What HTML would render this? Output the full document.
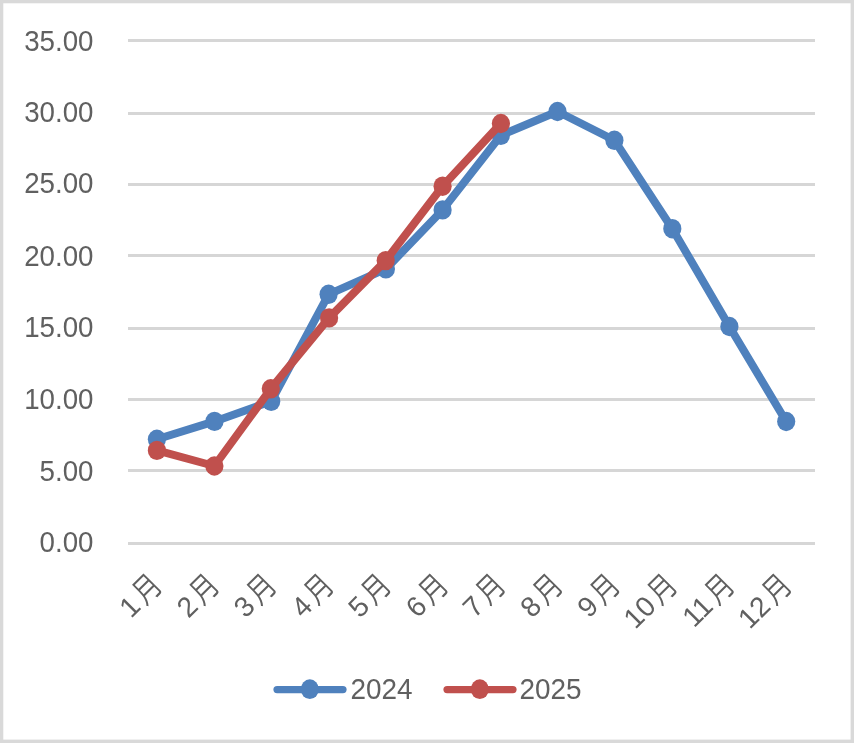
<!DOCTYPE html>
<html lang="zh">
<head>
<meta charset="utf-8">
<title>chart</title>
<style>
html,body{margin:0;padding:0;background:#d9d9d9;}
body{width:854px;height:743px;overflow:hidden;}
svg{display:block;filter:blur(0.4px);}
text{font-family:"Liberation Sans","Noto Sans CJK SC",sans-serif;fill:#606060;}
.yl{font-size:27.7px;text-anchor:end;}
.mo{font-size:31px;text-anchor:end;font-weight:350;}
.dg{font-size:28.2px;text-anchor:end;}
.lg{font-size:27.9px;}
</style>
</head>
<body>
<svg width="854" height="743" viewBox="0 0 854 743">
<rect x="0" y="0" width="854" height="743" fill="#d9d9d9"/>
<rect x="3.3" y="3.3" width="847.3" height="736.3" fill="#ffffff"/>

<rect x="128" y="39" width="687" height="3" fill="#d6d6d6"/>
<rect x="128" y="112" width="687" height="3" fill="#d6d6d6"/>
<rect x="128" y="183" width="687" height="3" fill="#d6d6d6"/>
<rect x="128" y="254" width="687" height="3" fill="#d6d6d6"/>
<rect x="128" y="327" width="687" height="3" fill="#d6d6d6"/>
<rect x="128" y="398" width="687" height="3" fill="#d6d6d6"/>
<rect x="128" y="469" width="687" height="3" fill="#d6d6d6"/>
<rect x="128" y="542" width="687" height="3" fill="#d6d6d6"/>
<text class="yl" transform="translate(93.5,50.8) scale(1,1.06)">35.00</text>
<text class="yl" transform="translate(93.5,122.4) scale(1,1.06)">30.00</text>
<text class="yl" transform="translate(93.5,192.9) scale(1,1.06)">25.00</text>
<text class="yl" transform="translate(93.5,265.7) scale(1,1.06)">20.00</text>
<text class="yl" transform="translate(93.5,336.8) scale(1,1.06)">15.00</text>
<text class="yl" transform="translate(93.5,408.5) scale(1,1.06)">10.00</text>
<text class="yl" transform="translate(93.5,480.8) scale(1,1.06)">5.00</text>
<text class="yl" transform="translate(93.5,551.5) scale(1,1.06)">0.00</text>
<polyline points="156.9,439.3 214.5,421.4 271.2,401.3 328.6,294.3 385.9,268.9 442.6,209.9 500.9,135.3 557.5,111.5 614.4,140.3 672.3,228.7 729.4,326.5 786.2,421.5" fill="none" stroke="#4f81bd" stroke-width="8" stroke-linejoin="round" stroke-linecap="round"/>
<ellipse cx="156.9" cy="439.3" rx="9.1" ry="9.7" fill="#4f81bd"/>
<ellipse cx="214.5" cy="421.4" rx="9.1" ry="9.7" fill="#4f81bd"/>
<ellipse cx="271.2" cy="401.3" rx="9.1" ry="9.7" fill="#4f81bd"/>
<ellipse cx="328.6" cy="294.3" rx="9.1" ry="9.7" fill="#4f81bd"/>
<ellipse cx="385.9" cy="268.9" rx="9.1" ry="9.7" fill="#4f81bd"/>
<ellipse cx="442.6" cy="209.9" rx="9.1" ry="9.7" fill="#4f81bd"/>
<ellipse cx="500.9" cy="135.3" rx="9.1" ry="9.7" fill="#4f81bd"/>
<ellipse cx="557.5" cy="111.5" rx="9.1" ry="9.7" fill="#4f81bd"/>
<ellipse cx="614.4" cy="140.3" rx="9.1" ry="9.7" fill="#4f81bd"/>
<ellipse cx="672.3" cy="228.7" rx="9.1" ry="9.7" fill="#4f81bd"/>
<ellipse cx="729.4" cy="326.5" rx="9.1" ry="9.7" fill="#4f81bd"/>
<ellipse cx="786.2" cy="421.5" rx="9.1" ry="9.7" fill="#4f81bd"/>
<polyline points="156.9,450.4 214.4,466.0 270.8,388.8 329.1,317.9 385.7,260.6 442.6,186.2 500.9,123.5" fill="none" stroke="#c0504d" stroke-width="8" stroke-linejoin="round" stroke-linecap="round"/>
<ellipse cx="156.9" cy="450.4" rx="9.1" ry="9.7" fill="#c0504d"/>
<ellipse cx="214.4" cy="466.0" rx="9.1" ry="9.7" fill="#c0504d"/>
<ellipse cx="270.8" cy="388.8" rx="9.1" ry="9.7" fill="#c0504d"/>
<ellipse cx="329.1" cy="317.9" rx="9.1" ry="9.7" fill="#c0504d"/>
<ellipse cx="385.7" cy="260.6" rx="9.1" ry="9.7" fill="#c0504d"/>
<ellipse cx="442.6" cy="186.2" rx="9.1" ry="9.7" fill="#c0504d"/>
<ellipse cx="500.9" cy="123.5" rx="9.1" ry="9.7" fill="#c0504d"/>
<g class="xl" transform="translate(164.1,586.0) rotate(-45)"><text class="dg" x="-31" y="0">1</text><text class="mo" transform="translate(-0.8,0.9) scale(0.86,1)" x="0" y="0">月</text></g>
<g class="xl" transform="translate(221.4,586.0) rotate(-45)"><text class="dg" x="-31" y="0">2</text><text class="mo" transform="translate(-0.8,0.9) scale(0.86,1)" x="0" y="0">月</text></g>
<g class="xl" transform="translate(278.6,586.0) rotate(-45)"><text class="dg" x="-31" y="0">3</text><text class="mo" transform="translate(-0.8,0.9) scale(0.86,1)" x="0" y="0">月</text></g>
<g class="xl" transform="translate(335.9,586.0) rotate(-45)"><text class="dg" x="-31" y="0">4</text><text class="mo" transform="translate(-0.8,0.9) scale(0.86,1)" x="0" y="0">月</text></g>
<g class="xl" transform="translate(393.1,586.0) rotate(-45)"><text class="dg" x="-31" y="0">5</text><text class="mo" transform="translate(-0.8,0.9) scale(0.86,1)" x="0" y="0">月</text></g>
<g class="xl" transform="translate(450.4,586.0) rotate(-45)"><text class="dg" x="-31" y="0">6</text><text class="mo" transform="translate(-0.8,0.9) scale(0.86,1)" x="0" y="0">月</text></g>
<g class="xl" transform="translate(507.6,586.0) rotate(-45)"><text class="dg" x="-31" y="0">7</text><text class="mo" transform="translate(-0.8,0.9) scale(0.86,1)" x="0" y="0">月</text></g>
<g class="xl" transform="translate(564.9,586.0) rotate(-45)"><text class="dg" x="-31" y="0">8</text><text class="mo" transform="translate(-0.8,0.9) scale(0.86,1)" x="0" y="0">月</text></g>
<g class="xl" transform="translate(622.1,586.0) rotate(-45)"><text class="dg" x="-31" y="0">9</text><text class="mo" transform="translate(-0.8,0.9) scale(0.86,1)" x="0" y="0">月</text></g>
<g class="xl" transform="translate(679.4,586.0) rotate(-45)"><text class="dg" x="-31" y="0">10</text><text class="mo" transform="translate(-0.8,0.9) scale(0.86,1)" x="0" y="0">月</text></g>
<g class="xl" transform="translate(736.6,586.0) rotate(-45)"><text class="dg" x="-31" y="0">11</text><text class="mo" transform="translate(-0.8,0.9) scale(0.86,1)" x="0" y="0">月</text></g>
<g class="xl" transform="translate(793.9,586.0) rotate(-45)"><text class="dg" x="-31" y="0">12</text><text class="mo" transform="translate(-0.8,0.9) scale(0.86,1)" x="0" y="0">月</text></g>
<line x1="277.09999999999997" y1="689.6" x2="342.90000000000003" y2="689.6" stroke="#4f81bd" stroke-width="7.4" stroke-linecap="round"/>
<ellipse cx="309.8" cy="689.2" rx="9" ry="9.9" fill="#4f81bd"/>
<text class="lg" transform="translate(350.5,699.4) scale(1,1.06)">2024</text>
<line x1="447.09999999999997" y1="689.6" x2="512.9" y2="689.6" stroke="#c0504d" stroke-width="7.4" stroke-linecap="round"/>
<ellipse cx="479.8" cy="689.2" rx="9" ry="9.9" fill="#c0504d"/>
<text class="lg" transform="translate(519.5,699.4) scale(1,1.06)">2025</text>
</svg>
</body>
</html>
